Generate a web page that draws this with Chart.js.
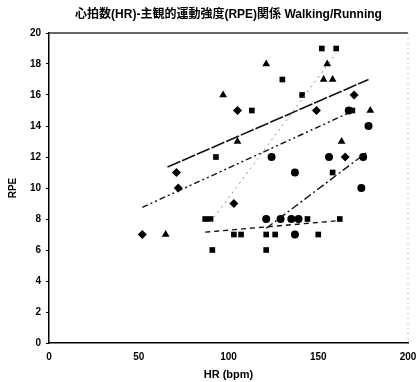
<!DOCTYPE html>
<html>
<head>
<meta charset="utf-8">
<script src="https://cdn.jsdelivr.net/npm/chart.js@4/dist/chart.umd.min.js"></script>
<style>
  html, body { margin: 0; padding: 0; background: #fff; }
  #wrap { width: 417px; height: 382px; }
</style>
</head>
<body>
<div id="wrap"><canvas id="chart" width="417" height="382"></canvas></div>
<script>
const titleText = '心拍数(HR)-主観的運動強度(RPE)関係 Walking/Running';
const xTitle = 'HR (bpm)';
const yTitle = 'RPE';

// markers
const diamondX = [52, 71, 72, 103, 105, 149, 165, 170];
const diamondY = [7, 11, 10, 9, 15, 15, 12, 16];
const circleX = [121, 129, 135, 139, 137, 137, 124, 156, 175, 174, 178, 167];
const circleY = [8, 8, 8, 8, 7, 11, 12, 12, 12, 10, 14, 15];
const squareX = [87, 90, 91, 93, 103, 107, 113, 121, 126, 121, 130, 141, 144, 150, 152, 158, 160, 162, 169];
const squareY = [8, 8, 6, 12, 7, 7, 15, 7, 7, 6, 17, 16, 8, 7, 19, 11, 19, 8, 15];
const triangleX = [65, 97, 105, 121, 153, 155, 158, 163, 179];
const triangleY = [7, 16, 13, 18, 17, 18, 17, 13, 15];

// trend lines (end points)
const solidX = [66, 178], solidY = [11.35, 17.0];
const dashDotX = [52, 170], dashDotY = [8.75, 15.0];
const dottedX = [90, 160], dottedY = [7.8, 18.7];
const dashX = [121, 177], dashY = [7.4, 12.3];
const flatX = [87, 162], flatY = [7.15, 7.9];

const xTicks = [0, 50, 100, 150, 200];
const yTicks = [0, 2, 4, 6, 8, 10, 12, 14, 16, 18, 20];

const FONT = "'Liberation Sans', Arial, 'Noto Sans CJK JP', sans-serif";

function pts(xs, ys) {
    return xs.map((x, i) => ({ x: x, y: ys[i] }));
}

function markerSet(xs, ys, style, r) {
    return { type: 'scatter', data: pts(xs, ys), pointStyle: style, pointRadius: r,
        backgroundColor: '#000', borderColor: '#000', borderWidth: 0, showLine: false };
}

function trendSet(xs, ys, dash, color, width) {
    return { type: 'line', data: pts(xs, ys), borderColor: color, borderWidth: width,
        borderDash: dash, pointRadius: 0, fill: false, tension: 0 };
}

// top border, dotted right border and the title centred over the plot
const frame = {
    id: 'frame',
    afterDraw(chart) {
        const { ctx, chartArea: a } = chart;
        ctx.save();
        ctx.strokeStyle = '#333';
        ctx.lineWidth = 1.5;
        ctx.beginPath();
        ctx.moveTo(a.left, a.top);
        ctx.lineTo(a.right, a.top);
        ctx.stroke();
        ctx.strokeStyle = '#999';
        ctx.lineWidth = 1;
        ctx.setLineDash([1, 4]);
        ctx.beginPath();
        ctx.moveTo(a.right, a.top);
        ctx.lineTo(a.right, a.bottom);
        ctx.stroke();
        ctx.setLineDash([]);
        ctx.fillStyle = '#000';
        ctx.font = 'bold 12px ' + FONT;
        ctx.textAlign = 'center';
        ctx.textBaseline = 'middle';
        ctx.fillText(titleText, (a.left + a.right) / 2, 15);
        ctx.restore();
    }
};

new Chart(document.getElementById('chart').getContext('2d'), {
    data: {
        datasets: [
            trendSet(solidX, solidY, [14, 2], '#111', 1.6),
            trendSet(dashDotX, dashDotY, [6, 3, 2, 3, 2, 3], '#111', 1.4),
            trendSet(dottedX, dottedY, [2, 4], '#888', 1),
            trendSet(dashX, dashY, [8, 3, 2, 3], '#111', 1.4),
            trendSet(flatX, flatY, [5, 4], '#111', 1.4),
            markerSet(diamondX, diamondY, 'rectRot', 4.5),
            markerSet(circleX, circleY, 'circle', 4),
            markerSet(squareX, squareY, 'rect', 4),
            markerSet(triangleX, triangleY, 'triangle', 4.5)
        ]
    },
    options: {
        responsive: false,
        animation: false,
        layout: { padding: { top: 33, right: 9, bottom: 0, left: 7 } },
        plugins: {
            legend: { display: false },
            tooltip: { enabled: false },
            title: { display: false }
        },
        scales: {
            x: {
                type: 'linear', min: 0, max: 200,
                afterBuildTicks: s => { s.ticks = xTicks.map(v => ({ value: v })); },
                afterFit: s => { s.height = 39; s.paddingRight = 0; s.paddingLeft = 0; },
                border: { color: '#000', width: 1.5 },
                grid: { drawOnChartArea: false, drawTicks: false },
                ticks: { color: '#000', padding: 8, maxRotation: 0, font: { family: FONT, size: 10, weight: 'bold' } },
                title: { display: true, text: xTitle, color: '#000', padding: { top: 2, bottom: 0 },
                    font: { family: FONT, size: 11, weight: 'bold' } }
            },
            y: {
                type: 'linear', min: 0, max: 20,
                afterBuildTicks: s => { s.ticks = yTicks.map(v => ({ value: v })); },
                afterFit: s => { s.width = 42; s.paddingTop = 0; s.paddingBottom = 0; },
                border: { color: '#000', width: 1.5 },
                grid: { drawOnChartArea: false, drawTicks: true, tickLength: 3, color: '#000' },
                ticks: { color: '#000', padding: 5, font: { family: FONT, size: 10, weight: 'bold' } },
                title: { display: true, text: yTitle, color: '#000', padding: { top: 0, bottom: 2 },
                    font: { family: FONT, size: 10, weight: 'bold' } }
            }
        }
    },
    plugins: [frame]
});
</script>
</body>
</html>
